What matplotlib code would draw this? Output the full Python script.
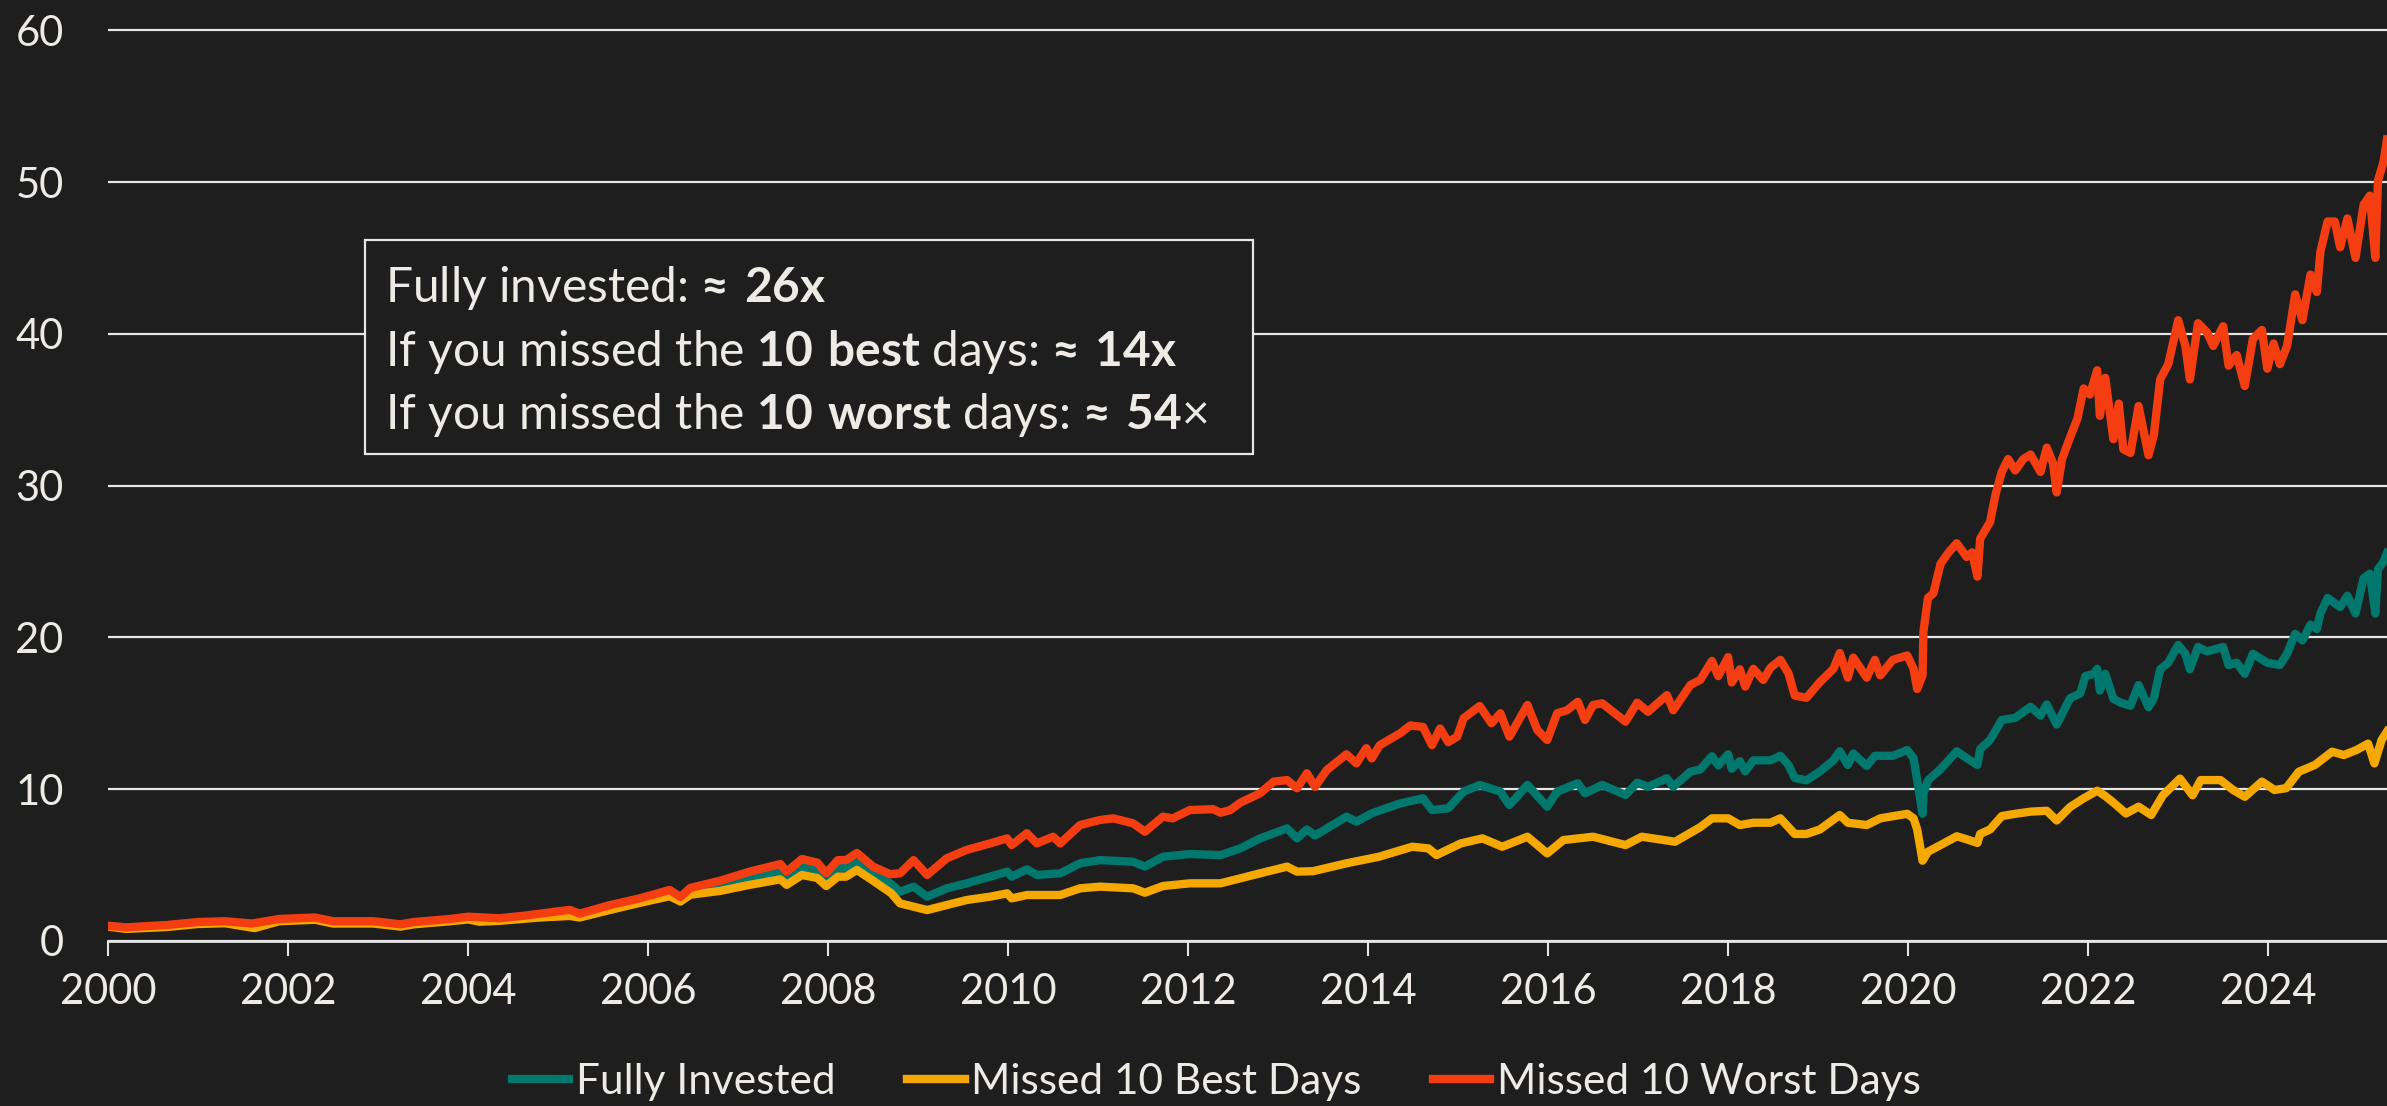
import matplotlib
matplotlib.use("Agg")
import matplotlib.pyplot as plt
from matplotlib.lines import Line2D
from matplotlib.patches import Rectangle

# Colours
BG = "#1e1e1e"
FG = "#eeebe6"
GRID = "#e6e6e6"
TEAL = "#00786e"
GOLD = "#f5a800"
RED = "#f43e12"

# Data (growth of 1 unit, year as decimal)
red_t = [2000.0, 2000.2, 2000.65, 2001.0, 2001.3, 2001.6, 2001.9, 2002.3, 2002.5, 2002.95,
         2003.25, 2003.4, 2003.8, 2004.0, 2004.35, 2004.6, 2004.8, 2005.13, 2005.24, 2005.58,
         2005.9, 2006.24, 2006.36, 2006.47, 2006.8, 2007.13, 2007.47, 2007.54, 2007.71, 2007.88,
         2007.98, 2008.11, 2008.2, 2008.32, 2008.5, 2008.69, 2008.8, 2008.95, 2009.1, 2009.32,
         2009.54, 2009.8, 2009.99, 2010.04, 2010.21, 2010.32, 2010.5, 2010.58, 2010.8, 2011.02,
         2011.17, 2011.39, 2011.52, 2011.72, 2011.83, 2012.02, 2012.28, 2012.36, 2012.47, 2012.58,
         2012.8, 2012.95, 2013.1, 2013.21, 2013.32, 2013.41, 2013.54, 2013.76, 2013.87, 2013.98,
         2014.04, 2014.13, 2014.36, 2014.47, 2014.61, 2014.71, 2014.8, 2014.89, 2014.99, 2015.06,
         2015.24, 2015.37, 2015.47, 2015.57, 2015.77, 2015.88, 2015.99, 2016.1, 2016.21, 2016.33,
         2016.41, 2016.5, 2016.6, 2016.72, 2016.86, 2016.99, 2017.11, 2017.32, 2017.39, 2017.58,
         2017.69, 2017.82, 2017.89, 2018.0, 2018.04, 2018.13, 2018.19, 2018.28, 2018.39, 2018.47,
         2018.58, 2018.67, 2018.74, 2018.87, 2019.02, 2019.17, 2019.24, 2019.33, 2019.39, 2019.54,
         2019.63, 2019.69, 2019.83, 2019.99, 2020.06, 2020.1, 2020.16, 2020.17, 2020.22, 2020.28,
         2020.36, 2020.45, 2020.54, 2020.65, 2020.71, 2020.77, 2020.8, 2020.91, 2020.97, 2021.04,
         2021.11, 2021.19, 2021.28, 2021.36, 2021.47, 2021.54, 2021.61, 2021.65, 2021.71, 2021.8,
         2021.88, 2021.95, 2022.02, 2022.1, 2022.13, 2022.19, 2022.28, 2022.34, 2022.39, 2022.47,
         2022.56, 2022.67, 2022.73, 2022.8, 2022.89, 2023.0, 2023.08, 2023.13, 2023.22, 2023.32,
         2023.39, 2023.5, 2023.56, 2023.65, 2023.74, 2023.83, 2023.93, 2023.99, 2024.06, 2024.13,
         2024.21, 2024.3, 2024.38, 2024.47, 2024.54, 2024.58, 2024.66, 2024.74, 2024.8, 2024.88,
         2024.97, 2025.06, 2025.13, 2025.19, 2025.22, 2025.28, 2025.32]
red_v = [1.0, 0.9, 1.05, 1.25, 1.3, 1.15, 1.45, 1.55, 1.3, 1.3,
         1.1, 1.25, 1.45, 1.6, 1.5, 1.65, 1.8, 2.05, 1.8, 2.37,
         2.8, 3.36, 2.9, 3.5, 3.97, 4.57, 5.07, 4.57, 5.4, 5.16,
         4.47, 5.33, 5.33, 5.8, 4.9, 4.4, 4.46, 5.33, 4.35, 5.45,
         6.0, 6.43, 6.76, 6.32, 7.1, 6.43, 6.87, 6.43, 7.64, 7.97,
         8.08, 7.75, 7.2, 8.19, 8.08, 8.63, 8.68, 8.45, 8.63, 9.11,
         9.73, 10.5, 10.6, 10.06, 11.05, 10.16, 11.26, 12.3, 11.7, 12.7,
         12.03, 12.9, 13.7, 14.2, 14.1, 12.9, 14.0, 13.1, 13.46, 14.67,
         15.48, 14.34, 15.0, 13.46, 15.55, 13.9, 13.24, 15.0, 15.2, 15.76,
         14.56, 15.55, 15.66, 15.1, 14.45, 15.7, 15.1, 16.2, 15.2, 16.86,
         17.2, 18.45, 17.45, 18.7, 17.03, 17.9, 16.76, 17.93, 17.2, 18.0,
         18.52, 17.64, 16.17, 16.02, 17.06, 17.93, 18.97, 17.35, 18.67, 17.35,
         18.52, 17.5, 18.52, 18.81, 17.93, 16.6, 17.5, 20.4, 22.6, 22.9,
         24.85, 25.6, 26.2, 25.3, 25.6, 24.0, 26.5, 27.6, 29.4, 30.9,
         31.75, 31.0, 31.75, 32.05, 30.9, 32.5, 31.46, 29.55, 31.75, 33.2,
         34.4, 36.4, 36.0, 37.6, 34.6, 37.1, 33.06, 35.4, 32.4, 32.15,
         35.24, 32.0, 33.33, 37.0, 38.0, 40.9, 39.2, 37.0, 40.7, 40.1,
         39.2, 40.5, 37.9, 38.6, 36.56, 39.66, 40.25, 37.7, 39.36, 38.0,
         39.2, 42.6, 40.9, 43.9, 42.75, 45.4, 47.4, 47.4, 45.7, 47.6,
         45.0, 48.5, 49.1, 45.0, 50.1, 51.3, 52.8]

teal_t = [2000.0, 2000.2, 2000.65, 2001.0, 2001.3, 2001.6, 2001.9, 2002.3, 2002.5, 2002.95,
          2003.25, 2003.4, 2003.8, 2004.0, 2004.35, 2004.6, 2004.8, 2005.13, 2005.24, 2005.58,
          2005.9, 2006.24, 2006.36, 2006.47, 2006.8, 2007.13, 2007.47, 2007.54, 2007.71, 2007.88,
          2007.98, 2008.11, 2008.2, 2008.32, 2008.5, 2008.69, 2008.8, 2008.95, 2009.1, 2009.32,
          2009.54, 2009.8, 2009.99, 2010.04, 2010.21, 2010.32, 2010.58, 2010.8, 2011.02, 2011.39,
          2011.52, 2011.72, 2012.02, 2012.36, 2012.58, 2012.8, 2013.1, 2013.21, 2013.32, 2013.41,
          2013.76, 2013.87, 2014.04, 2014.36, 2014.61, 2014.71, 2014.89, 2015.06, 2015.24, 2015.47,
          2015.57, 2015.77, 2015.99, 2016.1, 2016.33, 2016.41, 2016.6, 2016.86, 2016.99, 2017.11,
          2017.32, 2017.39, 2017.58, 2017.69, 2017.82, 2017.89, 2018.0, 2018.04, 2018.13, 2018.19,
          2018.28, 2018.47, 2018.58, 2018.67, 2018.74, 2018.87, 2019.02, 2019.17, 2019.24, 2019.33,
          2019.39, 2019.54, 2019.63, 2019.83, 2019.99, 2020.06, 2020.1, 2020.16, 2020.17, 2020.22,
          2020.36, 2020.54, 2020.65, 2020.77, 2020.8, 2020.91, 2021.04, 2021.19, 2021.36, 2021.47,
          2021.54, 2021.65, 2021.8, 2021.91, 2021.97, 2022.06, 2022.1, 2022.13, 2022.19, 2022.28,
          2022.36, 2022.47, 2022.56, 2022.67, 2022.73, 2022.8, 2022.89, 2023.0, 2023.08, 2023.13,
          2023.22, 2023.32, 2023.5, 2023.56, 2023.65, 2023.74, 2023.83, 2023.99, 2024.13, 2024.21,
          2024.3, 2024.38, 2024.47, 2024.54, 2024.58, 2024.66, 2024.8, 2024.88, 2024.97, 2025.06,
          2025.13, 2025.19, 2025.22, 2025.28, 2025.32]
teal_v = [1.0, 0.88, 1.0, 1.2, 1.25, 1.1, 1.38, 1.48, 1.22, 1.22,
          1.02, 1.17, 1.37, 1.52, 1.42, 1.56, 1.7, 1.92, 1.7, 2.22,
          2.65, 3.12, 2.75, 3.25, 3.65, 4.15, 4.6, 4.2, 4.9, 4.7,
          4.05, 4.8, 4.8, 5.15, 4.4, 3.8, 3.25, 3.58, 2.92, 3.47,
          3.8, 4.24, 4.57, 4.24, 4.72, 4.35, 4.46, 5.12, 5.33, 5.22,
          4.9, 5.55, 5.73, 5.66, 6.1, 6.76, 7.42, 6.76, 7.35, 6.95,
          8.19, 7.86, 8.41, 9.07, 9.4, 8.63, 8.74, 9.84, 10.28, 9.84,
          8.96, 10.28, 8.85, 9.84, 10.39, 9.73, 10.28, 9.62, 10.43, 10.16,
          10.72, 10.16, 11.15, 11.3, 12.17, 11.57, 12.3, 11.35, 11.85, 11.17,
          11.9, 11.9, 12.2, 11.6, 10.74, 10.58, 11.17, 11.9, 12.5, 11.6,
          12.35, 11.53, 12.2, 12.2, 12.58, 12.05, 10.58, 8.38, 9.7, 10.58,
          11.32, 12.5, 12.05, 11.6, 12.65, 13.24, 14.56, 14.7, 15.43, 14.85,
          15.58, 14.26, 16.0, 16.3, 17.45, 17.6, 17.93, 16.5, 17.6, 15.95,
          15.7, 15.5, 16.86, 15.4, 16.0, 17.9, 18.33, 19.5, 18.92, 17.9,
          19.37, 19.07, 19.37, 18.18, 18.33, 17.6, 18.92, 18.33, 18.18, 18.92,
          20.24, 19.8, 20.84, 20.55, 21.57, 22.6, 22.0, 22.75, 21.57, 23.9,
          24.2, 21.57, 24.5, 24.96, 25.56]

gold_t = [2000.0, 2000.2, 2000.65, 2001.0, 2001.3, 2001.63, 2001.9, 2002.3, 2002.5, 2002.95,
          2003.25, 2003.4, 2003.8, 2004.0, 2004.13, 2004.35, 2004.6, 2004.8, 2005.13, 2005.24,
          2005.58, 2005.9, 2006.24, 2006.36, 2006.47, 2006.8, 2007.13, 2007.47, 2007.54, 2007.71,
          2007.88, 2007.98, 2008.11, 2008.2, 2008.32, 2008.5, 2008.7, 2008.8, 2009.1, 2009.32,
          2009.54, 2009.8, 2009.99, 2010.04, 2010.21, 2010.58, 2010.8, 2011.02, 2011.39, 2011.52,
          2011.72, 2012.02, 2012.36, 2012.58, 2012.8, 2013.1, 2013.21, 2013.39, 2013.76, 2014.12,
          2014.49, 2014.67, 2014.76, 2015.03, 2015.27, 2015.49, 2015.77, 2015.99, 2016.17, 2016.5,
          2016.86, 2017.04, 2017.41, 2017.69, 2017.82, 2018.0, 2018.13, 2018.28, 2018.47, 2018.58,
          2018.74, 2018.87, 2019.02, 2019.24, 2019.33, 2019.54, 2019.69, 2019.99, 2020.06, 2020.1,
          2020.16, 2020.22, 2020.36, 2020.54, 2020.65, 2020.77, 2020.8, 2020.91, 2021.04, 2021.19,
          2021.36, 2021.54, 2021.65, 2021.8, 2021.95, 2022.1, 2022.19, 2022.29, 2022.42, 2022.56,
          2022.7, 2022.83, 2023.02, 2023.16, 2023.25, 2023.47, 2023.61, 2023.74, 2023.93, 2024.07,
          2024.2, 2024.34, 2024.52, 2024.71, 2024.84, 2024.98, 2025.11, 2025.18, 2025.26, 2025.32]
gold_v = [0.95, 0.8, 0.92, 1.12, 1.17, 0.85, 1.3, 1.4, 1.15, 1.15,
          0.95, 1.1, 1.3, 1.42, 1.27, 1.33, 1.45, 1.55, 1.65, 1.55,
          2.05, 2.5, 2.95, 2.6, 3.05, 3.3, 3.7, 4.06, 3.7, 4.35,
          4.15, 3.62, 4.24, 4.24, 4.68, 3.97, 3.16, 2.48, 2.04, 2.37,
          2.7, 2.92, 3.14, 2.81, 3.03, 3.03, 3.47, 3.58, 3.47, 3.18,
          3.62, 3.8, 3.8, 4.13, 4.46, 4.9, 4.57, 4.6, 5.12, 5.55,
          6.21, 6.1, 5.66, 6.43, 6.76, 6.21, 6.87, 5.77, 6.65, 6.87,
          6.32, 6.87, 6.54, 7.5, 8.08, 8.08, 7.64, 7.79, 7.79, 8.08,
          7.05, 7.05, 7.35, 8.3, 7.79, 7.64, 8.08, 8.38, 8.08, 7.35,
          5.29, 5.88, 6.32, 6.9, 6.7, 6.46, 7.05, 7.35, 8.23, 8.38,
          8.52, 8.58, 7.94, 8.83, 9.4, 9.9, 9.55, 9.07, 8.4, 8.85,
          8.3, 9.6, 10.7, 9.6, 10.6, 10.6, 9.95, 9.5, 10.5, 9.95,
          10.07, 11.15, 11.6, 12.47, 12.25, 12.58, 13.0, 11.7, 13.24, 13.8]

series_labels = ["Fully Invested", "Missed 10 Best Days", "Missed 10 Worst Days"]
x_ticks = list(range(2000, 2025, 2))
y_ticks = list(range(0, 61, 10))

box_lines = [
    r"Fully invested: $\mathbf{≈\ 26x}$",
    r"If you missed the $\mathbf{10\ best}$ days: $\mathbf{≈\ 14x}$",
    r"If you missed the $\mathbf{10\ worst}$ days: $\mathbf{≈\ 54}$×",
]

plt.rcParams["font.family"] = ["Lato", "DejaVu Sans"]
plt.rcParams["mathtext.fontset"] = "custom"
plt.rcParams["mathtext.rm"] = "Lato"
plt.rcParams["mathtext.bf"] = "Lato:bold"

W, H = 2387, 1106
fig = plt.figure(figsize=(W / 100, H / 100), dpi=100, facecolor=BG)

# axes placed in pixel terms: x=2000 at 108px, y=0 at 941px, 15.18 px per unit
y_top = 60.3
top_px = 941 - y_top * 15.18
ax = fig.add_axes([108 / W, 1 - 941 / H, 1 - 108 / W, (941 - top_px) / H])
ax.set_facecolor(BG)

ax.plot(teal_t, teal_v, color=TEAL, lw=6, solid_joinstyle="round", zorder=3)
ax.plot(gold_t, gold_v, color=GOLD, lw=6, solid_joinstyle="round", zorder=4)
ax.plot(red_t, red_v, color=RED, lw=6, solid_joinstyle="round", zorder=5)

ax.set_xlim(2000, 2025.32)
ax.set_ylim(0, y_top)
ax.set_xticks(x_ticks)
ax.set_yticks(y_ticks)

ax.yaxis.grid(True, color=GRID, lw=1.6)
ax.set_axisbelow(True)
for side in ["top", "right", "left"]:
    ax.spines[side].set_visible(False)
ax.spines["bottom"].set_color(GRID)
ax.spines["bottom"].set_linewidth(2)

ax.tick_params(axis="x", direction="out", length=11, width=1.5, color=GRID,
               labelsize=30, labelcolor=FG, pad=12)
ax.tick_params(axis="y", length=0, labelsize=30, labelcolor=FG, pad=32)

# annotation box
fig.patches.append(Rectangle((365 / W, 1 - 454 / H), (1253 - 365) / W, (454 - 240) / H,
                             transform=fig.transFigure, facecolor=BG, edgecolor=GRID,
                             lw=1.6, zorder=10))
baselines = [301.7, 365.7, 429.3]
for s, b in zip(box_lines, baselines):
    fig.text(385 / W, 1 - b / H, s, color=FG, fontsize=34.5, ha="left", va="baseline",
             zorder=11)

handles = [Line2D([], [], color=c, lw=6) for c in (TEAL, GOLD, RED)]
fig.legend(handles, series_labels, loc="center", bbox_to_anchor=(0.5096, 1 - 1082 / H),
           ncol=3, frameon=False, fontsize=30.5, handlelength=1.35, handletextpad=0.15,
           columnspacing=1.7, labelcolor=FG)

fig.savefig("out.png", dpi=100, facecolor=BG)
